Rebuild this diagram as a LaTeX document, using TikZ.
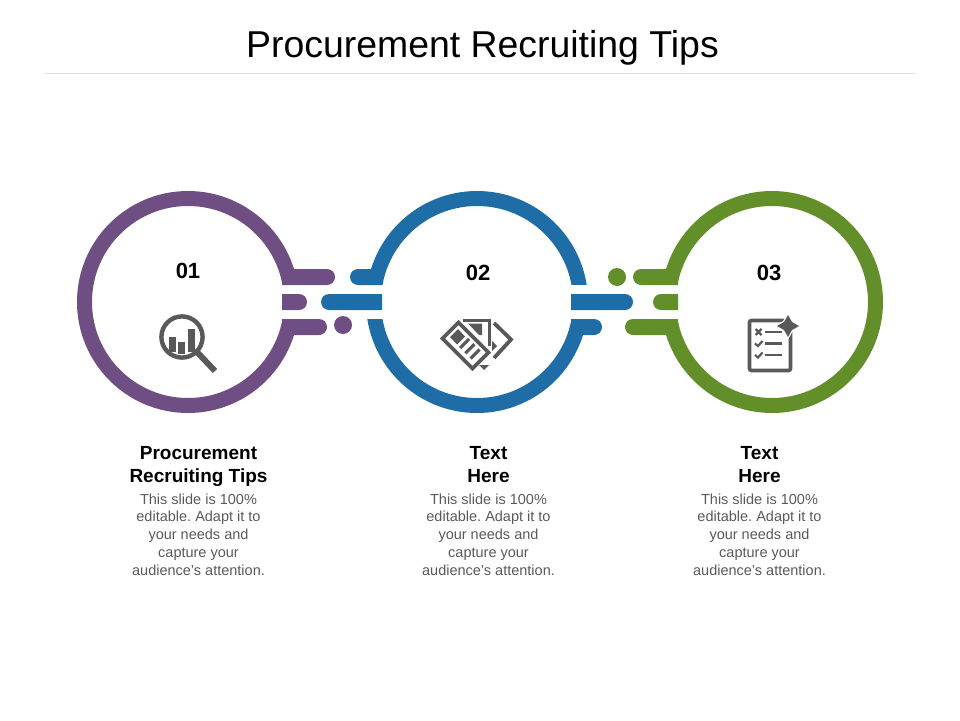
\documentclass[tikz,border=0pt]{standalone}
\usepackage{fontspec}
\setmainfont{Liberation Sans}
\frenchspacing
\definecolor{ringpurple}{HTML}{6F4E84}
\definecolor{ringblue}{HTML}{1F6DA6}
\definecolor{ringgreen}{HTML}{638F2B}
\definecolor{icongray}{HTML}{595959}
\definecolor{bodygray}{HTML}{595959}
\tikzset{
  numlabel/.style={font=\bfseries\fontsize{22}{24}\selectfont, text=black},
  headlabel/.style={font=\bfseries\fontsize{19}{23}\selectfont, align=center, text=black},
  bodylabel/.style={font=\fontsize{14.5}{17.8}\selectfont, align=center, text=bodygray},
  iconline/.style={draw=icongray, line width=3.8pt},
}
% bar with one round end: left x, right x, top y
\newcommand{\barright}[4]{\fill[#1] (#2,#4) -- (#3-8,#4) arc[start angle=-90, end angle=90, radius=8] -- (#2,#4+16) -- cycle;}
\newcommand{\barleft}[4]{\fill[#1] (#3,#4) -- (#2+8,#4) arc[start angle=270, end angle=90, radius=8] -- (#3,#4+16) -- cycle;}

\begin{document}
\begin{tikzpicture}[x=1pt, y=-1pt]
  \useasboundingbox (0,0) rectangle (960,720);

  % Title
  \node[font=\fontsize{37.4}{44}\selectfont] (title) at (482.5,47.5) {Procurement Recruiting Tips};
  \draw[black!12, line width=0.8pt] (45,73) -- (915,73);

  % Rings
  \foreach \cx/\ringcol in {188/ringpurple, 477/ringblue, 772/ringgreen}
    \draw[\ringcol, line width=15pt] (\cx,302) circle[radius=103.5];

  % Gaps in the rings
  \fill[white] (270,285) rectangle (310,319);
  \fill[white] (355,285) rectangle (395,319);
  \fill[white] (560,285) rectangle (600,319);
  \fill[white] (655,285) rectangle (695,319);

  % Bars, purple
  \barright{ringpurple}{282}{335}{269}
  \barright{ringpurple}{282}{307}{294}
  \barright{ringpurple}{282}{327}{319}
  \fill[ringpurple] (343,325) circle[radius=9];

  % Bars, blue
  \barleft{ringblue}{350}{382}{269}
  \barleft{ringblue}{321}{382}{294}
  \barright{ringblue}{571}{633}{294}
  \barright{ringblue}{571}{602}{319}

  % Bars, green
  \fill[ringgreen] (617,277) circle[radius=9];
  \barleft{ringgreen}{633}{678}{269}
  \barleft{ringgreen}{653}{678}{294}
  \barleft{ringgreen}{625}{678}{319}

  % Numbers
  \node[numlabel] (numa) at (188,271) {01};
  \node[numlabel] (numb) at (478,273) {02};
  \node[numlabel] (numc) at (769,273) {03};

  % Texts
  \node[headlabel] (heada) at (198.5,466.5) {Procurement\\Recruiting Tips};
  \node[headlabel] (headb) at (488.5,465) {Text\\Here};
  \node[headlabel] (headc) at (759.5,465) {Text\\Here};
  \foreach \cx/\nm in {198.5/a, 488.5/b, 759.5/c}
    \node[bodylabel] (body\nm) at (\cx,534.5) {This slide is 100\%\\editable. Adapt it to\\your needs and\\capture your\\audience's attention.};

  % Icon 1, magnifier
  \draw[icongray, line width=4.4pt] (182,337) circle[radius=20.6];
  \fill[icongray] (168.5,337) rectangle (175.5,352);
  \fill[icongray] (178,342) rectangle (185,354);
  \fill[icongray] (188,329) rectangle (195,352);
  \draw[icongray, line width=6pt] (197,352) -- (215,371);

  % Icon 2, papers
  \draw[iconline, line join=miter] (442.5,338.5) -- (458.5,322.5) -- (488.5,352.5) -- (472.5,368.5) -- cycle;
  \fill[icongray] (450,337) -- (458,329) -- (465,336.5) -- (457,344.5) -- cycle;
  \foreach \off in {0,5.3,10.6}
    \draw[icongray, line width=3.2pt] (460+\off,348+\off) -- (469+\off,339+\off);
  \draw[iconline] (463,320.5) -- (489.5,320.5) -- (489.5,346);
  \fill[icongray] (468,323.5) -- (482,323.5) -- (482,335) -- (479,335) -- cycle;
  \draw[iconline, line join=miter] (494,323) -- (511,339.5) -- (494,358);
  \fill[icongray] (492,341) -- (497,346) -- (492,351) -- cycle;
  \fill[icongray] (479,365) -- (489,365) -- (484,370) -- cycle;

  % Icon 3, checklist
  \draw[icongray, line width=3.6pt, rounded corners=2pt] (749.5,320.5) rectangle (790.5,370.5);
  \foreach \ly in {332,343.5,355}
    \draw[icongray, line width=2.8pt] (765,\ly) -- (782,\ly);
  \draw[icongray, line width=2.2pt] (755.5,329) -- (761.5,335) (761.5,329) -- (755.5,335);
  \foreach \ly in {343.5,355}
    \draw[icongray, line width=2.2pt] (755,\ly) -- (758,\ly+2.5) -- (762.5,\ly-2.5);
  \fill[icongray, draw=white, line width=2.5pt, line join=round]
    (788,315) -- (792,322) -- (799,326) -- (792,330) -- (788,337) -- (784,330) -- (777,326) -- (784,322) -- cycle;
  \fill[icongray]
    (788,315) -- (792,322) -- (799,326) -- (792,330) -- (788,337) -- (784,330) -- (777,326) -- (784,322) -- cycle;

\end{tikzpicture}
\end{document}
